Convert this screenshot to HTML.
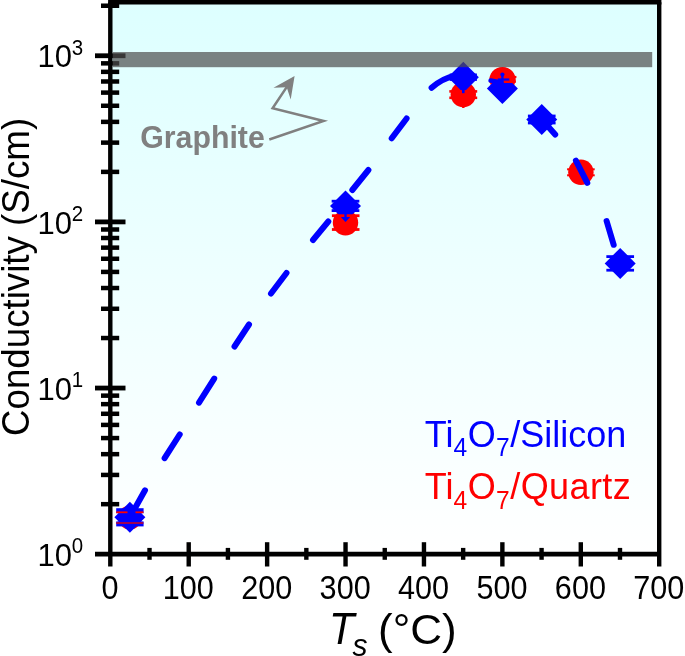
<!DOCTYPE html>
<html lang="en"><head><meta charset="utf-8"><title>Conductivity vs Ts</title>
<style>html,body{margin:0;padding:0;background:#fff;}body{width:685px;height:656px;overflow:hidden;}svg{display:block;filter:blur(0.45px);}text{font-family:"Liberation Sans",Arial,sans-serif;}</style>
</head><body>
<svg width="685" height="656" viewBox="0 0 685 656">
<defs><linearGradient id="bg" x1="0" y1="0" x2="0" y2="1"><stop offset="0" stop-color="#ddffff"/><stop offset="1" stop-color="#ffffff"/></linearGradient></defs>
<rect x="0" y="0" width="685" height="656" fill="#ffffff"/>
<rect x="110.3" y="2.2" width="548.9000000000001" height="552.0" fill="url(#bg)"/>
<circle cx="129.9" cy="517.5" r="12.0" fill="#ff0000"/>
<circle cx="345.5" cy="222.7" r="12.7" fill="#ff0000"/>
<circle cx="463.3" cy="94.5" r="12.7" fill="#ff0000"/>
<circle cx="502.5" cy="80.1" r="12.7" fill="#ff0000"/>
<circle cx="580.9" cy="172.3" r="12.7" fill="#ff0000"/>
<line x1="567.1" y1="169.3" x2="594.6999999999999" y2="169.3" stroke="#ff0000" stroke-width="2.0"/>
<line x1="567.1" y1="175.3" x2="594.6999999999999" y2="175.3" stroke="#ff0000" stroke-width="2.0"/>
<line x1="129.9" y1="517.3" x2="145.0" y2="490.3" stroke="#0000ff" stroke-width="6.0" stroke-linecap="round"/>
<line x1="164.6" y1="458.2" x2="179.7" y2="434.5" stroke="#0000ff" stroke-width="6.0" stroke-linecap="round"/>
<line x1="199.0" y1="402.6" x2="214.2" y2="378.6" stroke="#0000ff" stroke-width="6.0" stroke-linecap="round"/>
<line x1="234.5" y1="346.5" x2="249.0" y2="324.5" stroke="#0000ff" stroke-width="6.0" stroke-linecap="round"/>
<line x1="271.0" y1="293.5" x2="286.5" y2="273.0" stroke="#0000ff" stroke-width="6.0" stroke-linecap="round"/>
<line x1="313.0" y1="240.0" x2="328.3" y2="221.5" stroke="#0000ff" stroke-width="6.0" stroke-linecap="round"/>
<line x1="352.3" y1="190.0" x2="368.4" y2="170.0" stroke="#0000ff" stroke-width="6.0" stroke-linecap="round"/>
<line x1="391.7" y1="138.3" x2="406.6" y2="118.5" stroke="#0000ff" stroke-width="6.0" stroke-linecap="round"/>
<line x1="541.8" y1="119.5" x2="555.2" y2="134.6" stroke="#0000ff" stroke-width="6.0" stroke-linecap="round"/>
<line x1="575.9" y1="160.6" x2="587.3" y2="182.8" stroke="#0000ff" stroke-width="6.0" stroke-linecap="round"/>
<line x1="606.6" y1="221.0" x2="613.7" y2="244.8" stroke="#0000ff" stroke-width="6.0" stroke-linecap="round"/>
<path d="M431.6 87.8 Q442.3 78.3 456 75.4 L463 77" fill="none" stroke="#0000ff" stroke-width="6.0" stroke-linecap="round" stroke-linejoin="round"/>
<polygon points="129.9,501.79999999999995 145.4,517.3 129.9,532.8 114.4,517.3" fill="#0000ff"/>
<polygon points="345.5,190.4 361.0,205.9 345.5,221.4 330.0,205.9" fill="#0000ff"/>
<polygon points="463.3,61.7 478.8,77.2 463.3,92.7 447.8,77.2" fill="#0000ff"/>
<polygon points="502.4,73.1 517.9,88.6 502.4,104.1 486.9,88.6" fill="#0000ff"/>
<polygon points="541.75,104.0 557.25,119.5 541.75,135.0 526.25,119.5" fill="#0000ff"/>
<polygon points="620.2,247.89999999999998 635.7,263.4 620.2,278.9 604.7,263.4" fill="#0000ff"/>
<line x1="116.2" y1="510.69999999999993" x2="143.6" y2="510.69999999999993" stroke="#0000ff" stroke-width="5.0"/>
<line x1="116.2" y1="523.9" x2="143.6" y2="523.9" stroke="#0000ff" stroke-width="5.0"/>
<line x1="331.65" y1="201.20000000000002" x2="359.35" y2="201.20000000000002" stroke="#0000ff" stroke-width="2.8"/>
<line x1="331.65" y1="210.6" x2="359.35" y2="210.6" stroke="#0000ff" stroke-width="2.8"/>
<line x1="606.35" y1="256.59999999999997" x2="634.0500000000001" y2="256.59999999999997" stroke="#0000ff" stroke-width="2.8"/>
<line x1="606.35" y1="270.2" x2="634.0500000000001" y2="270.2" stroke="#0000ff" stroke-width="2.8"/>
<line x1="527.9" y1="116.0" x2="555.6" y2="116.0" stroke="#0000ff" stroke-width="2.8"/>
<line x1="527.9" y1="123.0" x2="555.6" y2="123.0" stroke="#0000ff" stroke-width="2.8"/>
<line x1="449.7" y1="74.7" x2="476.90000000000003" y2="74.7" stroke="#0000ff" stroke-width="2.4"/>
<line x1="449.7" y1="79.7" x2="476.90000000000003" y2="79.7" stroke="#0000ff" stroke-width="2.4"/>
<line x1="116.2" y1="512.3" x2="127.5" y2="512.3" stroke="#ff0000" stroke-width="1.8"/>
<line x1="135.5" y1="512.3" x2="143.4" y2="512.3" stroke="#ff0000" stroke-width="1.8"/>
<line x1="116.2" y1="523.0" x2="143.4" y2="523.0" stroke="#b00040" stroke-width="1.8"/>
<line x1="331.9" y1="215.7" x2="359.5" y2="215.7" stroke="#ff0000" stroke-width="2.8"/>
<line x1="331.9" y1="229.5" x2="359.5" y2="229.5" stroke="#ff0000" stroke-width="2.8"/>
<polygon points="341.0,217.1 350.0,217.1 345.5,221.9" fill="#0000ff"/>
<line x1="345.5" y1="213.5" x2="345.5" y2="218" stroke="#0000ff" stroke-width="2.4"/>
<line x1="449.3" y1="91.4" x2="477.2" y2="91.4" stroke="#ff0000" stroke-width="2.6"/>
<line x1="449.3" y1="97.8" x2="477.2" y2="97.8" stroke="#ff0000" stroke-width="2.6"/>
<line x1="463.3" y1="88" x2="463.3" y2="93.2" stroke="#0000ff" stroke-width="2.6"/>
<line x1="463.3" y1="105" x2="463.3" y2="108" stroke="#ff0000" stroke-width="2.4"/>
<path d="M489.6 82.9 A13.2 13.2 0 1 1 515.4 82.9 Z" fill="#ff0000"/>
<line x1="512" y1="77.0" x2="516.4" y2="77.0" stroke="#ff0000" stroke-width="2.2"/>
<line x1="512" y1="81.6" x2="515.8" y2="81.6" stroke="#ff0000" stroke-width="2.2"/>
<path d="M490.6 80.6 L501.5 82.6" fill="none" stroke="#0000ff" stroke-width="4.6" stroke-linecap="round"/>
<line x1="502.4" y1="73.6" x2="502.4" y2="84" stroke="#0000ff" stroke-width="2.3"/>
<line x1="497.8" y1="79.5" x2="509.3" y2="79.5" stroke="#0000ff" stroke-width="2.2"/>
<circle cx="502.4" cy="74.6" r="2.1" fill="#0000ff"/>
<text transform="translate(140.2,147.6) scale(1,1.04)" font-size="30.3" text-anchor="start" fill="#808080" font-weight="bold">Graphite</text>
<polyline points="269.3,139.5 323.6,121.0 272.6,108.3 288.5,84.4" fill="none" stroke="#808080" stroke-width="2.5" stroke-linejoin="miter"/>
<polygon points="294.6,76.0 273.5,87.8 286.7,87.2 290.7,99.6" fill="#808080"/>
<g stroke="#000" stroke-width="4.4" fill="none" stroke-linecap="butt">
<line x1="108.1" y1="2.2" x2="661.4000000000001" y2="2.2"/>
<line x1="659.2" y1="2.2" x2="659.2" y2="566.5"/>
<line x1="110.3" y1="2.2" x2="110.3" y2="566.5"/>
<line x1="95.0" y1="554.2" x2="659.2" y2="554.2" stroke-width="4.8"/>
<line x1="149.51" y1="547.9000000000001" x2="149.51" y2="559.8000000000001"/>
<line x1="188.71" y1="542.2" x2="188.71" y2="566.5"/>
<line x1="227.92" y1="547.9000000000001" x2="227.92" y2="559.8000000000001"/>
<line x1="267.13" y1="542.2" x2="267.13" y2="566.5"/>
<line x1="306.34" y1="547.9000000000001" x2="306.34" y2="559.8000000000001"/>
<line x1="345.54" y1="542.2" x2="345.54" y2="566.5"/>
<line x1="384.75" y1="547.9000000000001" x2="384.75" y2="559.8000000000001"/>
<line x1="423.96" y1="542.2" x2="423.96" y2="566.5"/>
<line x1="463.16" y1="547.9000000000001" x2="463.16" y2="559.8000000000001"/>
<line x1="502.37" y1="542.2" x2="502.37" y2="566.5"/>
<line x1="541.58" y1="547.9000000000001" x2="541.58" y2="559.8000000000001"/>
<line x1="580.79" y1="542.2" x2="580.79" y2="566.5"/>
<line x1="619.99" y1="547.9000000000001" x2="619.99" y2="559.8000000000001"/>
<line x1="101.0" y1="504.18" x2="119.2" y2="504.18" stroke-width="4.5"/>
<line x1="101.0" y1="474.93" x2="119.2" y2="474.93" stroke-width="4.5"/>
<line x1="101.0" y1="454.17" x2="119.2" y2="454.17" stroke-width="4.5"/>
<line x1="101.0" y1="438.07" x2="119.2" y2="438.07" stroke-width="4.5"/>
<line x1="101.0" y1="424.91" x2="119.2" y2="424.91" stroke-width="4.5"/>
<line x1="101.0" y1="413.79" x2="119.2" y2="413.79" stroke-width="4.5"/>
<line x1="101.0" y1="404.15" x2="119.2" y2="404.15" stroke-width="4.5"/>
<line x1="101.0" y1="395.65" x2="119.2" y2="395.65" stroke-width="4.5"/>
<line x1="95.0" y1="388.05" x2="125.5" y2="388.05" stroke-width="4.8"/>
<line x1="101.0" y1="338.03" x2="119.2" y2="338.03" stroke-width="4.5"/>
<line x1="101.0" y1="308.78" x2="119.2" y2="308.78" stroke-width="4.5"/>
<line x1="101.0" y1="288.02" x2="119.2" y2="288.02" stroke-width="4.5"/>
<line x1="101.0" y1="271.92" x2="119.2" y2="271.92" stroke-width="4.5"/>
<line x1="101.0" y1="258.76" x2="119.2" y2="258.76" stroke-width="4.5"/>
<line x1="101.0" y1="247.64" x2="119.2" y2="247.64" stroke-width="4.5"/>
<line x1="101.0" y1="238.00" x2="119.2" y2="238.00" stroke-width="4.5"/>
<line x1="101.0" y1="229.50" x2="119.2" y2="229.50" stroke-width="4.5"/>
<line x1="95.0" y1="221.90" x2="125.5" y2="221.90" stroke-width="4.8"/>
<line x1="101.0" y1="171.88" x2="119.2" y2="171.88" stroke-width="4.5"/>
<line x1="101.0" y1="142.63" x2="119.2" y2="142.63" stroke-width="4.5"/>
<line x1="101.0" y1="121.87" x2="119.2" y2="121.87" stroke-width="4.5"/>
<line x1="101.0" y1="105.77" x2="119.2" y2="105.77" stroke-width="4.5"/>
<line x1="101.0" y1="92.61" x2="119.2" y2="92.61" stroke-width="4.5"/>
<line x1="101.0" y1="81.49" x2="119.2" y2="81.49" stroke-width="4.5"/>
<line x1="101.0" y1="71.85" x2="119.2" y2="71.85" stroke-width="4.5"/>
<line x1="101.0" y1="63.35" x2="119.2" y2="63.35" stroke-width="4.5"/>
<line x1="95.0" y1="55.75" x2="125.5" y2="55.75" stroke-width="4.8"/>
<line x1="101.0" y1="5.73" x2="119.2" y2="5.73" stroke-width="4.5"/>
</g>
<rect x="112.7" y="52.0" width="539.5" height="15.2" fill="rgb(78,78,78)" fill-opacity="0.705"/>
<text transform="translate(109.90,598.9) scale(1,1.06)" font-size="30.6" text-anchor="middle" fill="#000">0</text>
<text transform="translate(188.31,598.9) scale(1,1.06)" font-size="30.6" text-anchor="middle" fill="#000">100</text>
<text transform="translate(266.73,598.9) scale(1,1.06)" font-size="30.6" text-anchor="middle" fill="#000">200</text>
<text transform="translate(345.14,598.9) scale(1,1.06)" font-size="30.6" text-anchor="middle" fill="#000">300</text>
<text transform="translate(423.56,598.9) scale(1,1.06)" font-size="30.6" text-anchor="middle" fill="#000">400</text>
<text transform="translate(501.97,598.9) scale(1,1.06)" font-size="30.6" text-anchor="middle" fill="#000">500</text>
<text transform="translate(580.39,598.9) scale(1,1.06)" font-size="30.6" text-anchor="middle" fill="#000">600</text>
<text transform="translate(658.80,598.9) scale(1,1.06)" font-size="30.6" text-anchor="middle" fill="#000">700</text>
<text transform="translate(72.0,565.80) scale(1,1.04)" font-size="31" text-anchor="end" fill="#000">10</text>
<text transform="translate(71.7,553.30) scale(1,1.04)" font-size="20.5" text-anchor="start" fill="#000">0</text>
<text transform="translate(72.0,399.65) scale(1,1.04)" font-size="31" text-anchor="end" fill="#000">10</text>
<text transform="translate(71.7,387.15) scale(1,1.04)" font-size="20.5" text-anchor="start" fill="#000">1</text>
<text transform="translate(72.0,233.50) scale(1,1.04)" font-size="31" text-anchor="end" fill="#000">10</text>
<text transform="translate(71.7,221.00) scale(1,1.04)" font-size="20.5" text-anchor="start" fill="#000">2</text>
<text transform="translate(72.0,67.35) scale(1,1.04)" font-size="31" text-anchor="end" fill="#000">10</text>
<text transform="translate(71.7,54.85) scale(1,1.04)" font-size="20.5" text-anchor="start" fill="#000">3</text>
<text transform="translate(28.7,436.0) rotate(-90) scale(1,1.04)" font-size="36.7" text-anchor="start" fill="#000">Conductivity (S/cm)</text>
<text transform="translate(329.1,643.6) scale(1,1.09)" font-size="41.5" text-anchor="start" fill="#000" font-style="italic">T</text>
<text transform="translate(352.6,656.3) scale(1,1.04)" font-size="30" text-anchor="start" fill="#000" font-style="italic">s</text>
<text transform="translate(378.0,643.8) scale(1,0.985)" font-size="44" text-anchor="start" fill="#000">(°C)</text>
<text transform="translate(424.8,446.7) scale(1,1.02)" font-size="36.0" text-anchor="start" fill="#0000ff">Ti<tspan font-size="24.6" dy="9.4">4</tspan><tspan dy="-9.4" dx="0.5">O</tspan><tspan font-size="24.6" dy="9.4" dx="0.4">7</tspan><tspan dy="-9.4" dx="0.5">/Silicon</tspan></text>
<text transform="translate(424.8,499.0) scale(1,1.02)" font-size="36.0" text-anchor="start" fill="#ff0000">Ti<tspan font-size="24.6" dy="9.4">4</tspan><tspan dy="-9.4" dx="0.5">O</tspan><tspan font-size="24.6" dy="9.4" dx="0.4">7</tspan><tspan dy="-9.4" dx="0.5" letter-spacing="0.42">/Quartz</tspan></text>
</svg>
</body></html>
